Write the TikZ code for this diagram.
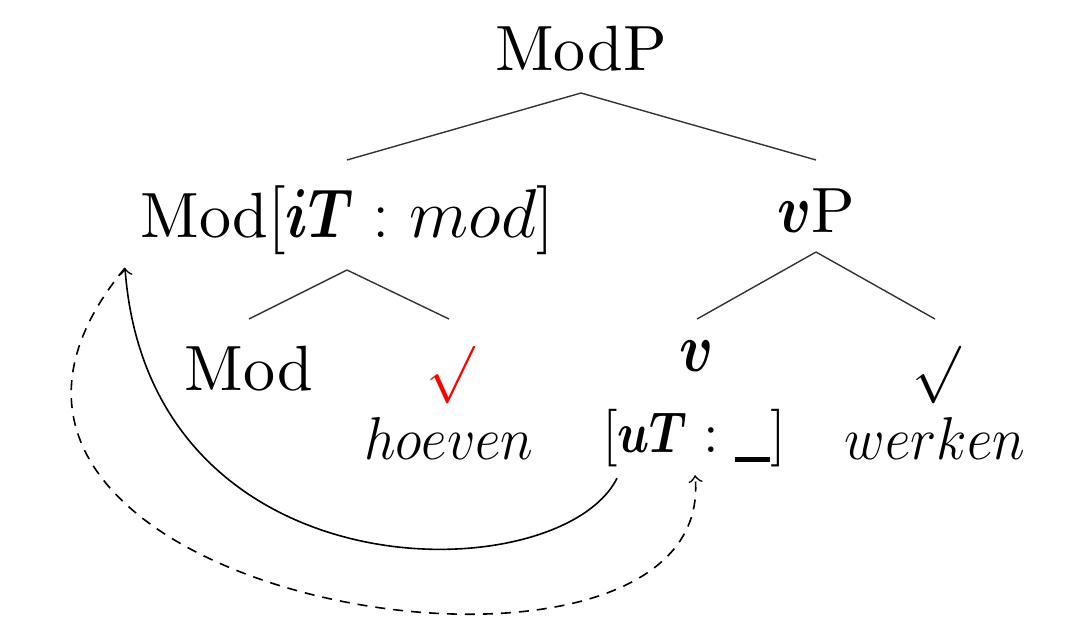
\documentclass[tikz,border=0pt]{standalone}
\usepackage{amsmath,bm}
\usepackage{fontspec}
\setmainfont{lmroman10-regular}[Extension=.otf, BoldFont=lmroman10-bold, ItalicFont=lmroman10-italic]
\usetikzlibrary{calc}
\newcommand\mth[1]{{\fontsize{14.4}{17}\selectfont$#1$}}
\newcommand\bmc[1]{\scalebox{0.82}[1]{$\bm{#1}$}}
\newcommand\gapbar{\rule[-2.5pt]{8.75pt}{1.25pt}}
\begin{document}
\begin{tikzpicture}[x=0.25pt,y=-0.25pt,
  font=\fontsize{16}{19}\selectfont,
  lbl/.style={inner sep=0pt, anchor=base},
  branch/.style={draw=black!80, line width=0.35pt},
  mover/.style={draw=black, line width=0.4pt, ->}]
\useasboundingbox (0,0) rectangle (1078,624);
% labels
\node[lbl] (modp) at (581,70) {ModP};
\node[lbl] (modbar) at (347,237) {Mod$[\bmc{iT}:mod]$};
\node[lbl] (vp) at (816,232) {\bmc{v}P};
\node[lbl] (mod) at (249,390) {Mod};
\node[inner sep=0pt, anchor=north, text=red] (rsurd) at (450,345) {\fontsize{14.4}{17}\selectfont$\surd$};
\node[lbl] (hoeven) at (449,459) {\scalebox{0.97}[1.05]{\mth{hoeven}}};
\node[lbl] (v) at (697,371) {\bmc{v}};
\node[lbl] (ut) at (694,452) {{\fontsize{15}{18}\selectfont$[\bmc{uT}:\gapbar]$}};
\node[inner sep=0pt, anchor=north] (bsurd) at (936,345) {\fontsize{14.4}{17}\selectfont$\surd$};
\node[lbl] (werken) at (935,459) {\scalebox{0.97}[1.05]{\mth{werken}}};
% level heights
\coordinate (A0) at (0,93);
\coordinate (E1) at (0,160);
\coordinate (A1a) at (0,270);
\coordinate (A1b) at (0,252);
\coordinate (E2) at (0,319);
% branches
\draw[branch] (modp |- A0) -- (modbar |- E1);
\draw[branch] (modp |- A0) -- (vp |- E1);
\draw[branch] (modbar |- A1a) -- (mod |- E2);
\draw[branch] (modbar |- A1a) -- (hoeven |- E2);
\draw[branch] (vp |- A1b) -- (v |- E2);
\draw[branch] (vp |- A1b) -- (werken |- E2);
% movement arrows
\coordinate (mtip) at (125,268);
\coordinate (ustart) at ($(ut.south)+(-77,11)$);
\coordinate (utip) at ($(ut.south)+(1,8)$);
\draw[mover] (ustart) .. controls (560,592) and (150,600) .. (mtip);
\draw[mover, dash pattern=on 2.5pt off 2pt] (mtip) .. controls (-150,600) and (720,740) .. (utip);
\end{tikzpicture}
\end{document}
